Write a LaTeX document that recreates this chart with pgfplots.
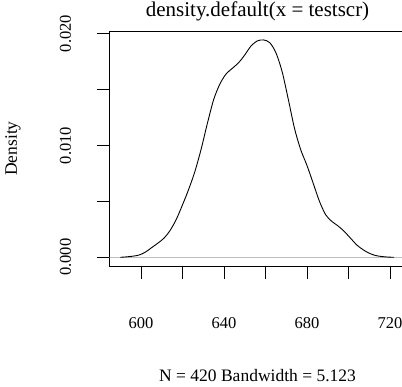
\documentclass[border=0pt]{standalone}
\usepackage{fontspec}
\setmainfont{Liberation Serif}
\usepackage{pgfplots}
\pgfplotsset{compat=1.18}
\newcommand{\tickfont}{\fontsize{16.5bp}{19bp}\selectfont}
\newcommand{\lblfont}{\fontsize{17.5bp}{20bp}\selectfont}
\newcommand{\ttlfont}{\fontsize{21bp}{24bp}\selectfont}
\begin{document}
\begin{tikzpicture}
\path[use as bounding box, clip] (0,0) rectangle (402bp,387bp);
\begin{axis}[
  at={(109.7bp,121bp)}, anchor=south west,
  scale only axis, width=295.7bp, height=234.8bp,
  xmin=584.9, xmax=727.4, ymin=-0.000778, ymax=0.020222,
  axis line style={black, line width=1bp},
  xtick={600,620,640,660,680,700,720},
  xticklabels={600,,640,,680,,720},
  ytick={0,0.005,0.010,0.015,0.020},
  yticklabels={0.000,,0.010,,0.020},
  scaled y ticks=false, scaled x ticks=false,
  xtick pos=bottom, ytick pos=left,
  tick align=outside, major tick length=12.7bp,
  every tick/.style={black, line width=0.8bp},
  /pgf/number format/assume math mode=true,
  tick label style={font=\tickfont},
  xticklabel style={anchor=base},
  xticklabel shift=50bp,
  yticklabel style={rotate=90, anchor=base},
  yticklabel shift=26bp,
  xlabel={N = 420 Bandwidth = 5.123},
  xlabel style={font=\lblfont, at={(axis description cs:0.5,0)}, anchor=base, yshift=-115.7bp},
  ylabel={Density},
  ylabel style={font=\lblfont, at={(axis description cs:-0.3135,0.5)}, anchor=base, rotate=0},
  title={density.default(x = testscr)},
  title style={font=\ttlfont, at={(axis description cs:0.5,1)}, anchor=base, yshift=9.2bp},
]
\addplot[color={rgb,255:red,190;green,190;blue,190}, line width=0.8bp] coordinates {(570,0) (740,0)};
\addplot[black, line width=0.9bp, smooth] coordinates {
(590,0.00000) (593,0.00004) (596,0.00010) (599,0.00020) (602,0.00045)
(605,0.00085) (608,0.00125) (611,0.00170) (614,0.00240) (617,0.00340)
(620,0.00470) (623,0.00610) (626,0.00770) (629,0.00970) (632,0.01200)
(635,0.01410) (638,0.01550) (641,0.01640) (644,0.01690) (647,0.01740)
(650,0.01810) (653,0.01890) (656,0.01935) (659,0.01944) (662,0.01920)
(665,0.01830) (668,0.01660) (671,0.01410) (674,0.01150) (677,0.00960)
(680,0.00820) (683,0.00660) (686,0.00500) (689,0.00380) (692,0.00320)
(695,0.00280) (698,0.00230) (701,0.00170) (704,0.00110) (707,0.00068)
(710,0.00036) (713,0.00016) (716,0.00007) (719,0.00002) (722,0.00000)
};
\end{axis}
\end{tikzpicture}
\end{document}
